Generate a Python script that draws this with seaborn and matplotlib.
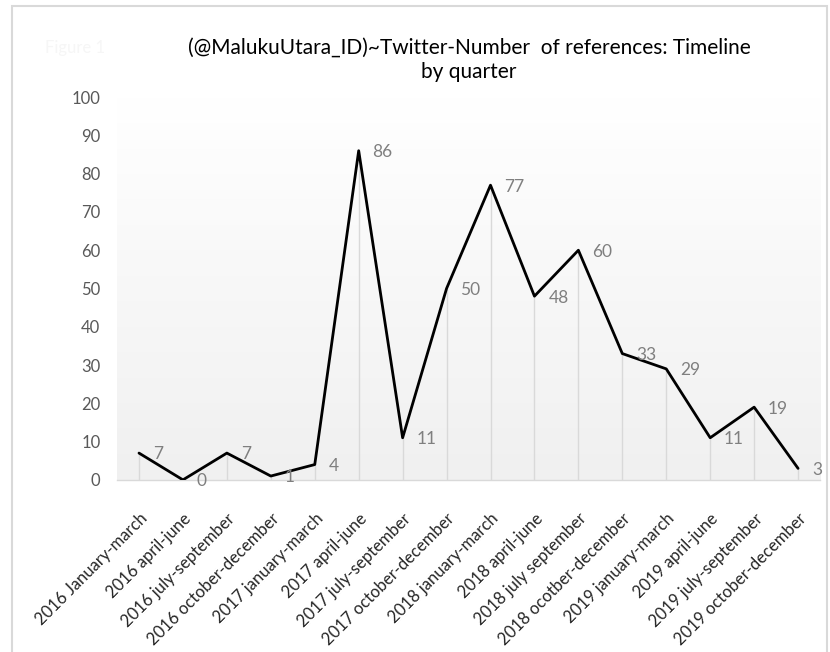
import numpy as np
import pandas as pd
import seaborn as sns
import matplotlib.pyplot as plt
from matplotlib.patches import Rectangle
from matplotlib.colors import LinearSegmentedColormap

quarters = [
    "2016 January-march", "2016 april-june", "2016 july-september", "2016 october-december",
    "2017 january-march", "2017 april-june", "2017 july-september", "2017 october-december",
    "2018 january-march", "2018 april-june", "2018 july september", "2018 ocotber-december",
    "2019 january-march", "2019 april-june", "2019 july-september", "2019 october-december",
]
counts = [7, 0, 7, 1, 4, 86, 11, 50, 77, 48, 60, 33, 29, 11, 19, 3]
y_ticks = [0, 10, 20, 30, 40, 50, 60, 70, 80, 90, 100]

title = "(@MalukuUtara_ID)~Twitter-Number  of references: Timeline\nby quarter"

sns.set_theme(style="white")
plt.rcParams['font.family'] = ['Lato', 'DejaVu Sans']

df = pd.DataFrame({"quarter": quarters, "count": counts})

fig = plt.figure(figsize=(8.3, 6.52), dpi=100)
ax = fig.add_axes([0.141, 0.264, 0.847, 0.587])

# light frame around the whole chart (bottom edge runs off the image)
fig.patches.append(Rectangle((12 / 830, -10 / 652), 815 / 830, 656 / 652, transform=fig.transFigure,
                             fill=False, edgecolor="#d9d9d9", linewidth=1.5))

# vertical gradient background, white at top to light grey at bottom
grad = np.linspace(0, 1, 256).reshape(-1, 1)
ax.imshow(grad, extent=[0, 1, 0, 1], transform=ax.transAxes, aspect="auto",
          cmap=LinearSegmentedColormap.from_list("g", ["#f0f0f0", "#ffffff"]),
          origin="lower", zorder=0)

pos = np.arange(len(quarters))
ax.vlines(pos, 0, counts, color="#d9d9d9", linewidth=1, zorder=1)
sns.lineplot(x=pos, y=df["count"], ax=ax, color="black", linewidth=2, sort=False, zorder=3)

for x, v in zip(pos, counts):
    ax.annotate(str(v), (x, v), xytext=(10, -1), textcoords="offset points",
                ha="left", va="center", fontsize=12.5, color="#7f7f7f")

ax.set_xlim(-0.5, len(quarters) - 0.5)
ax.set_ylim(0, 100)
ax.set_yticks(y_ticks)
ax.set_yticklabels([str(t) for t in y_ticks], fontsize=12, color="#595959")
ax.set_xticks(pos)
ax.set_xticklabels(quarters, rotation=45, ha="right", rotation_mode="anchor",
                   fontsize=12, color="#262626")
ax.tick_params(axis="y", length=0, pad=12)
ax.tick_params(axis="x", length=0, pad=22)
ax.set_xlabel("")
ax.set_ylabel("")

for side in ["top", "right", "left"]:
    ax.spines[side].set_visible(False)
ax.spines["bottom"].set_color("#d9d9d9")
ax.spines["bottom"].set_linewidth(1)

fig.text(0.565, 0.908, title, ha="center", va="center", fontsize=15, color="black",
         linespacing=1.3)
fig.text(0.127, 0.926, "Figure 1", ha="right", va="center", fontsize=12, color="#f6f6f6")

fig.savefig("out.png", dpi=100)
